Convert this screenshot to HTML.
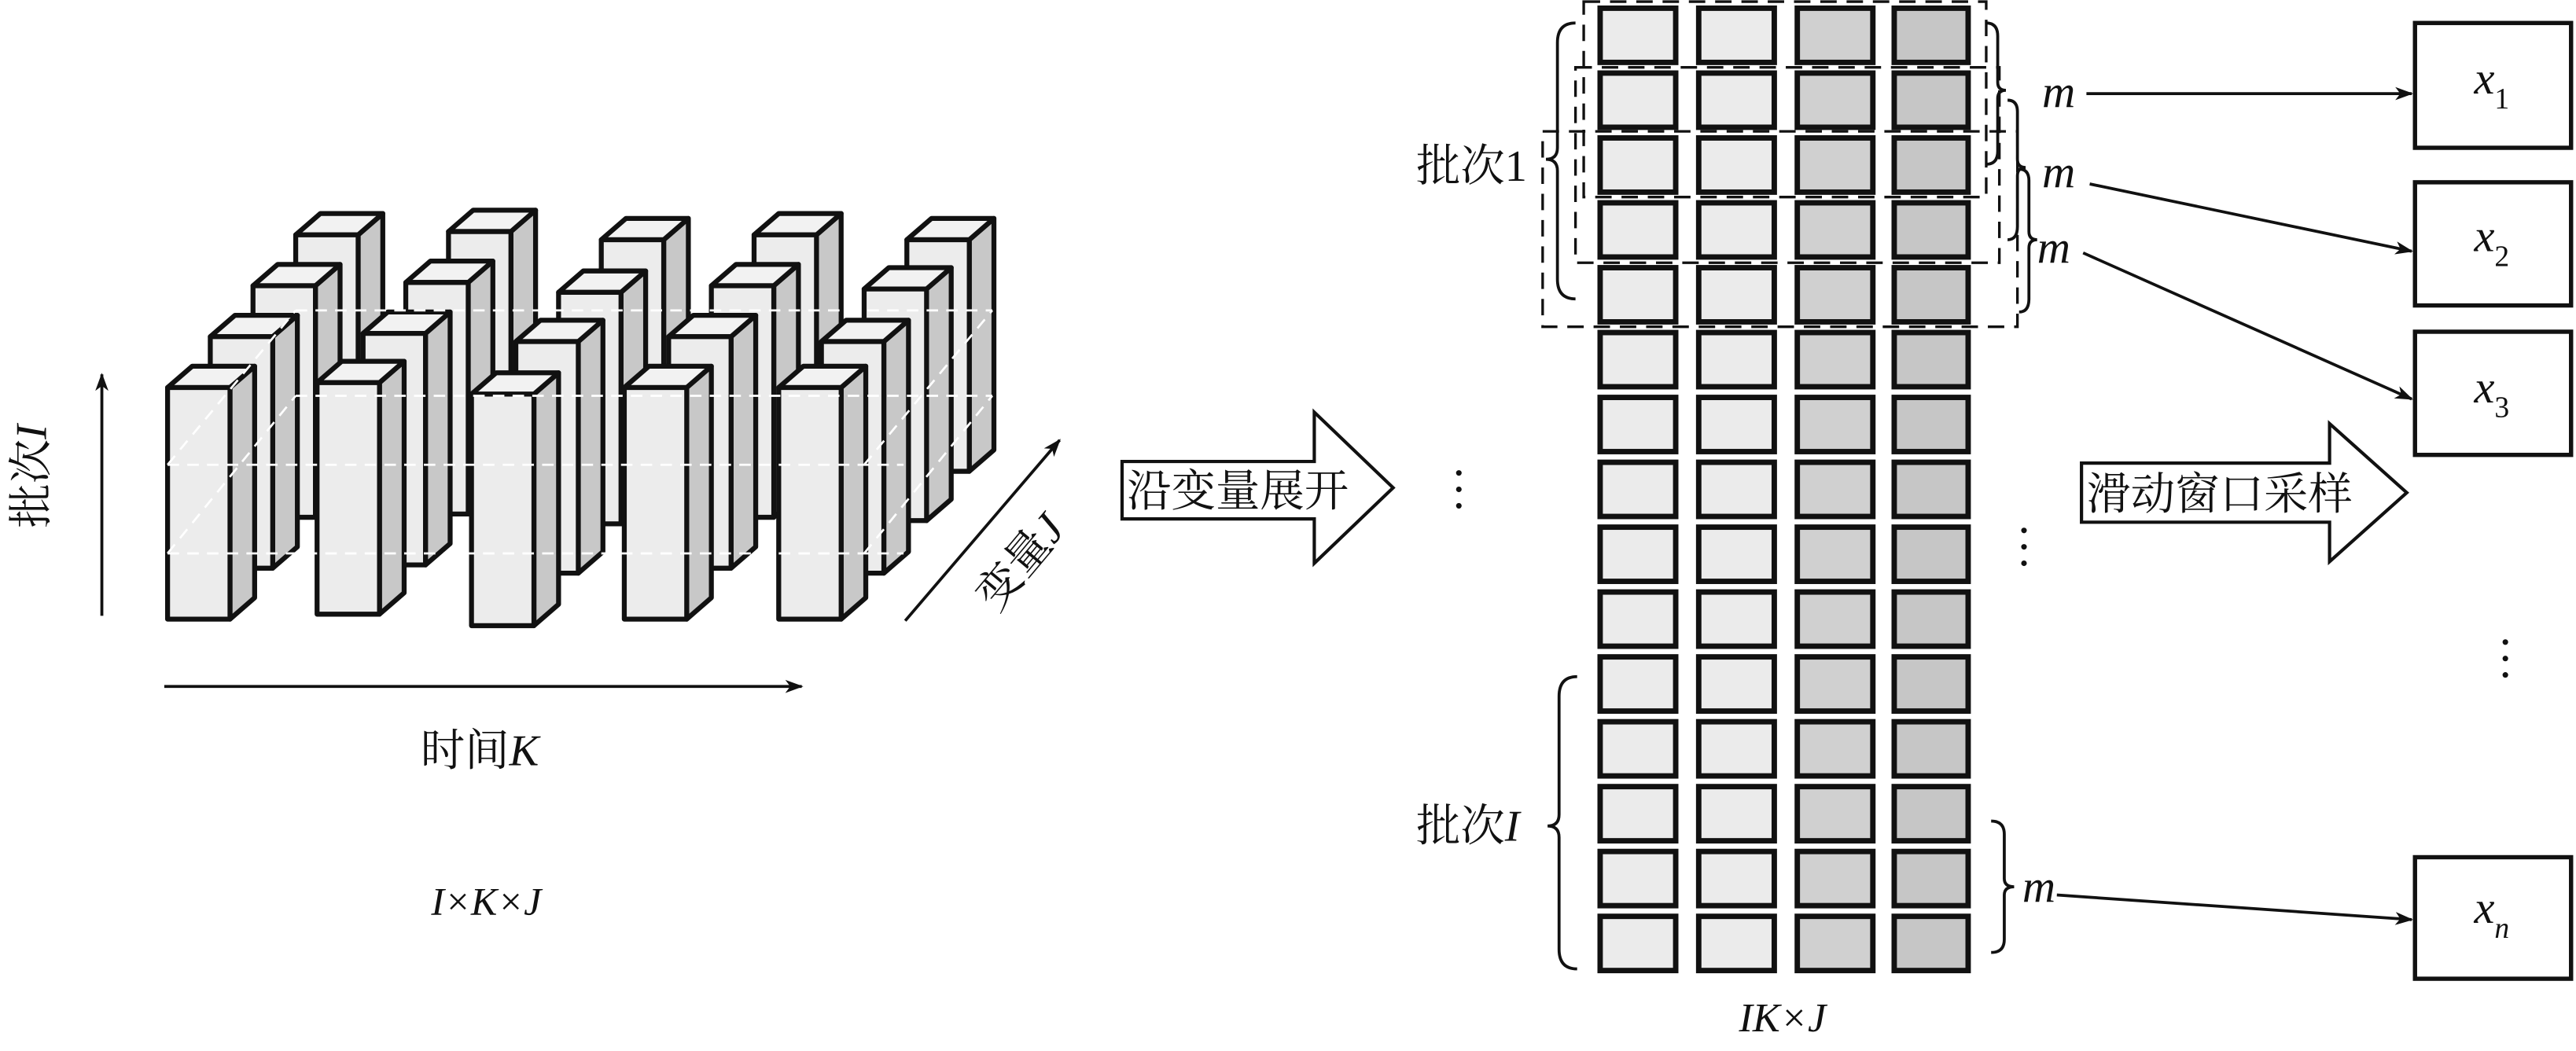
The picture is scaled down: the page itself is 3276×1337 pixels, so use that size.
<!DOCTYPE html>
<html><head><meta charset="utf-8"><style>
html,body{margin:0;padding:0;background:#fff}
svg{display:block}
text{font-family:"Liberation Serif","Noto Serif CJK SC",serif;fill:#111}
</style></head><body>
<svg width="3276" height="1337" viewBox="0 0 1568 640" preserveAspectRatio="none" xmlns="http://www.w3.org/2000/svg">
<defs>
<g id="p" stroke="#111" stroke-width="3" stroke-linejoin="round">
<polygon points="38,0 53,-13 53,128 38,141" fill="#c8c8c8"/>
<polygon points="0,0 15,-13 53,-13 38,0" fill="#f2f2f2"/>
<rect x="0" y="0" width="38" height="141" fill="#ececec"/>
</g>
<g id="row" stroke="#111" stroke-width="3.3">
<rect x="974" y="0" width="46" height="33" fill="#ebebeb"/>
<rect x="1034" y="0" width="46" height="33" fill="#ebebeb"/>
<rect x="1094" y="0" width="46" height="33" fill="#d0d0d0"/>
<rect x="1153" y="0" width="45" height="33" fill="#c6c6c6"/>
</g>
<marker id="ah" markerWidth="11" markerHeight="8" refX="10" refY="4" orient="auto" markerUnits="userSpaceOnUse">
<path d="M0,0 L11,4 L0,8 L3,4 Z" fill="#111"/>
</marker>
</defs>

<g>
<use href="#p" x="180" y="143"/><use href="#p" x="273" y="141"/><use href="#p" x="366" y="146"/><use href="#p" x="459" y="143"/><use href="#p" x="552" y="146"/>
<use href="#p" x="154" y="174"/><use href="#p" x="247" y="172"/><use href="#p" x="340" y="178"/><use href="#p" x="433" y="174"/><use href="#p" x="526" y="176"/>
<use href="#p" x="128" y="205"/><use href="#p" x="221" y="203"/><use href="#p" x="314" y="208"/><use href="#p" x="407" y="205"/><use href="#p" x="500" y="208"/>
<use href="#p" x="102" y="236"/><use href="#p" x="193" y="233"/><use href="#p" x="287" y="240"/><use href="#p" x="380" y="236"/><use href="#p" x="474" y="236"/>
</g>
<g stroke="#fff" stroke-width="1.3" stroke-dasharray="7,5" fill="none">
<line x1="102" y1="283" x2="550" y2="283"/><line x1="102" y1="337" x2="550" y2="337"/>
<line x1="180" y1="189" x2="604" y2="189"/><line x1="180" y1="241" x2="604" y2="241"/>
<line x1="102" y1="337" x2="180" y2="241"/><line x1="102" y1="283" x2="180" y2="189"/>
<line x1="526" y1="337" x2="604" y2="241"/><line x1="526" y1="283" x2="604" y2="189"/>
</g>

<g stroke="#111" stroke-width="1.8" fill="none">
<line x1="62" y1="375" x2="62" y2="228" marker-end="url(#ah)"/>
<line x1="100" y1="418" x2="488" y2="418" marker-end="url(#ah)"/>
<line x1="551" y1="378" x2="645" y2="268" marker-end="url(#ah)"/>
</g>
<text x="28" y="290" font-size="27" transform="rotate(-90 28 290)" text-anchor="middle">批次<tspan font-style="italic">I</tspan></text>
<text x="292" y="466" font-size="27" text-anchor="middle">时间<tspan font-style="italic">K</tspan></text>
<text x="628" y="348" font-size="27" text-anchor="middle" transform="rotate(-50 628 348)">变量<tspan font-style="italic">J</tspan></text>
<text x="296" y="557" font-size="24" text-anchor="middle" font-style="italic">I×K×J</text>

<path d="M683,281 L800,281 L800,251 L848,297 L800,343 L800,316 L683,316 Z" fill="#fff" stroke="#111" stroke-width="2"/>
<text x="686" y="308" font-size="27">沿变量展开</text>
<path d="M1267,282 L1418,282 L1418,258 L1465,300 L1418,342 L1418,318 L1267,318 Z" fill="#fff" stroke="#111" stroke-width="2"/>
<text x="1270" y="310" font-size="27">滑动窗口采样</text>

<g>
<use href="#row" y="5"/><use href="#row" y="44.5"/><use href="#row" y="84"/><use href="#row" y="123.5"/><use href="#row" y="163"/>
<use href="#row" y="202.5"/><use href="#row" y="242"/><use href="#row" y="281.5"/><use href="#row" y="321"/><use href="#row" y="360.5"/>
<use href="#row" y="400"/><use href="#row" y="439.5"/><use href="#row" y="479"/><use href="#row" y="518.5"/><use href="#row" y="558"/>
</g>

<g fill="none" stroke="#111" stroke-width="1.6" stroke-dasharray="10,6">
<rect x="964" y="1" width="245" height="119"/>
<rect x="959" y="41" width="258" height="119"/>
<rect x="939" y="80" width="289" height="119"/>
</g>

<g fill="none" stroke="#111" stroke-width="1.8">
<path d="M959,14 Q948,14 948,26 L948,90 Q948,97 941,97 Q948,97 948,104 L948,170 Q948,182 959,182"/>
<path d="M1209,14 Q1216,14 1216,22 L1216,50 Q1216,55 1221,55 Q1216,55 1216,60 L1216,92 Q1216,100 1209,100"/>
<path d="M1222,61 Q1228,61 1228,68 L1228,97 Q1228,102 1233,102 Q1228,102 1228,107 L1228,138 Q1228,146 1222,146"/>
<path d="M1229,103 Q1235,103 1235,110 L1235,141 Q1235,146 1240,146 Q1235,146 1235,151 L1235,182 Q1235,190 1229,190"/>
<path d="M960,412 Q949,412 949,424 L949,496 Q949,503 942,503 Q949,503 949,510 L949,578 Q949,590 960,590"/>
<path d="M1212,500 Q1220,500 1220,508 L1220,535 Q1220,540 1226,540 Q1220,540 1220,545 L1220,572 Q1220,580 1212,580"/>
</g>
<text x="862" y="110" font-size="27">批次1</text>
<text x="862" y="512" font-size="27">批次<tspan font-style="italic">I</tspan></text>
<text x="1085" y="628" font-size="25" text-anchor="middle" font-style="italic">IK×J</text>

<g font-size="28" font-style="italic">
<text x="1243" y="65">m</text>
<text x="1243" y="114">m</text>
<text x="1240" y="160">m</text>
<text x="1231" y="549">m</text>
</g>
<g stroke="#111" stroke-width="1.8">
<line x1="1270" y1="57" x2="1468" y2="57" marker-end="url(#ah)"/>
<line x1="1272" y1="112" x2="1468" y2="153" marker-end="url(#ah)"/>
<line x1="1268" y1="154" x2="1468" y2="243" marker-end="url(#ah)"/>
<line x1="1252" y1="545" x2="1468" y2="560" marker-end="url(#ah)"/>
</g>
<g fill="#fff" stroke="#111" stroke-width="2.6">
<rect x="1470" y="14" width="95" height="76"/>
<rect x="1470" y="111" width="95" height="75"/>
<rect x="1470" y="202" width="95" height="75"/>
<rect x="1470" y="522" width="95" height="74"/>
</g>
<g font-size="28" font-style="italic">
<text x="1506" y="57">x<tspan font-size="18" font-style="normal" dy="9">1</tspan></text>
<text x="1506" y="153">x<tspan font-size="18" font-style="normal" dy="9">2</tspan></text>
<text x="1506" y="245">x<tspan font-size="18" font-style="normal" dy="9">3</tspan></text>
<text x="1506" y="562">x<tspan font-size="18" font-style="italic" dy="9">n</tspan></text>
</g>

<g fill="#111">
<circle cx="888" cy="288" r="1.7"/><circle cx="888" cy="298" r="1.7"/><circle cx="888" cy="308" r="1.7"/>
<circle cx="1232" cy="323" r="1.7"/><circle cx="1232" cy="333" r="1.7"/><circle cx="1232" cy="343" r="1.7"/>
<circle cx="1525" cy="391" r="1.7"/><circle cx="1525" cy="401" r="1.7"/><circle cx="1525" cy="411" r="1.7"/>
</g>
</svg>
</body></html>
